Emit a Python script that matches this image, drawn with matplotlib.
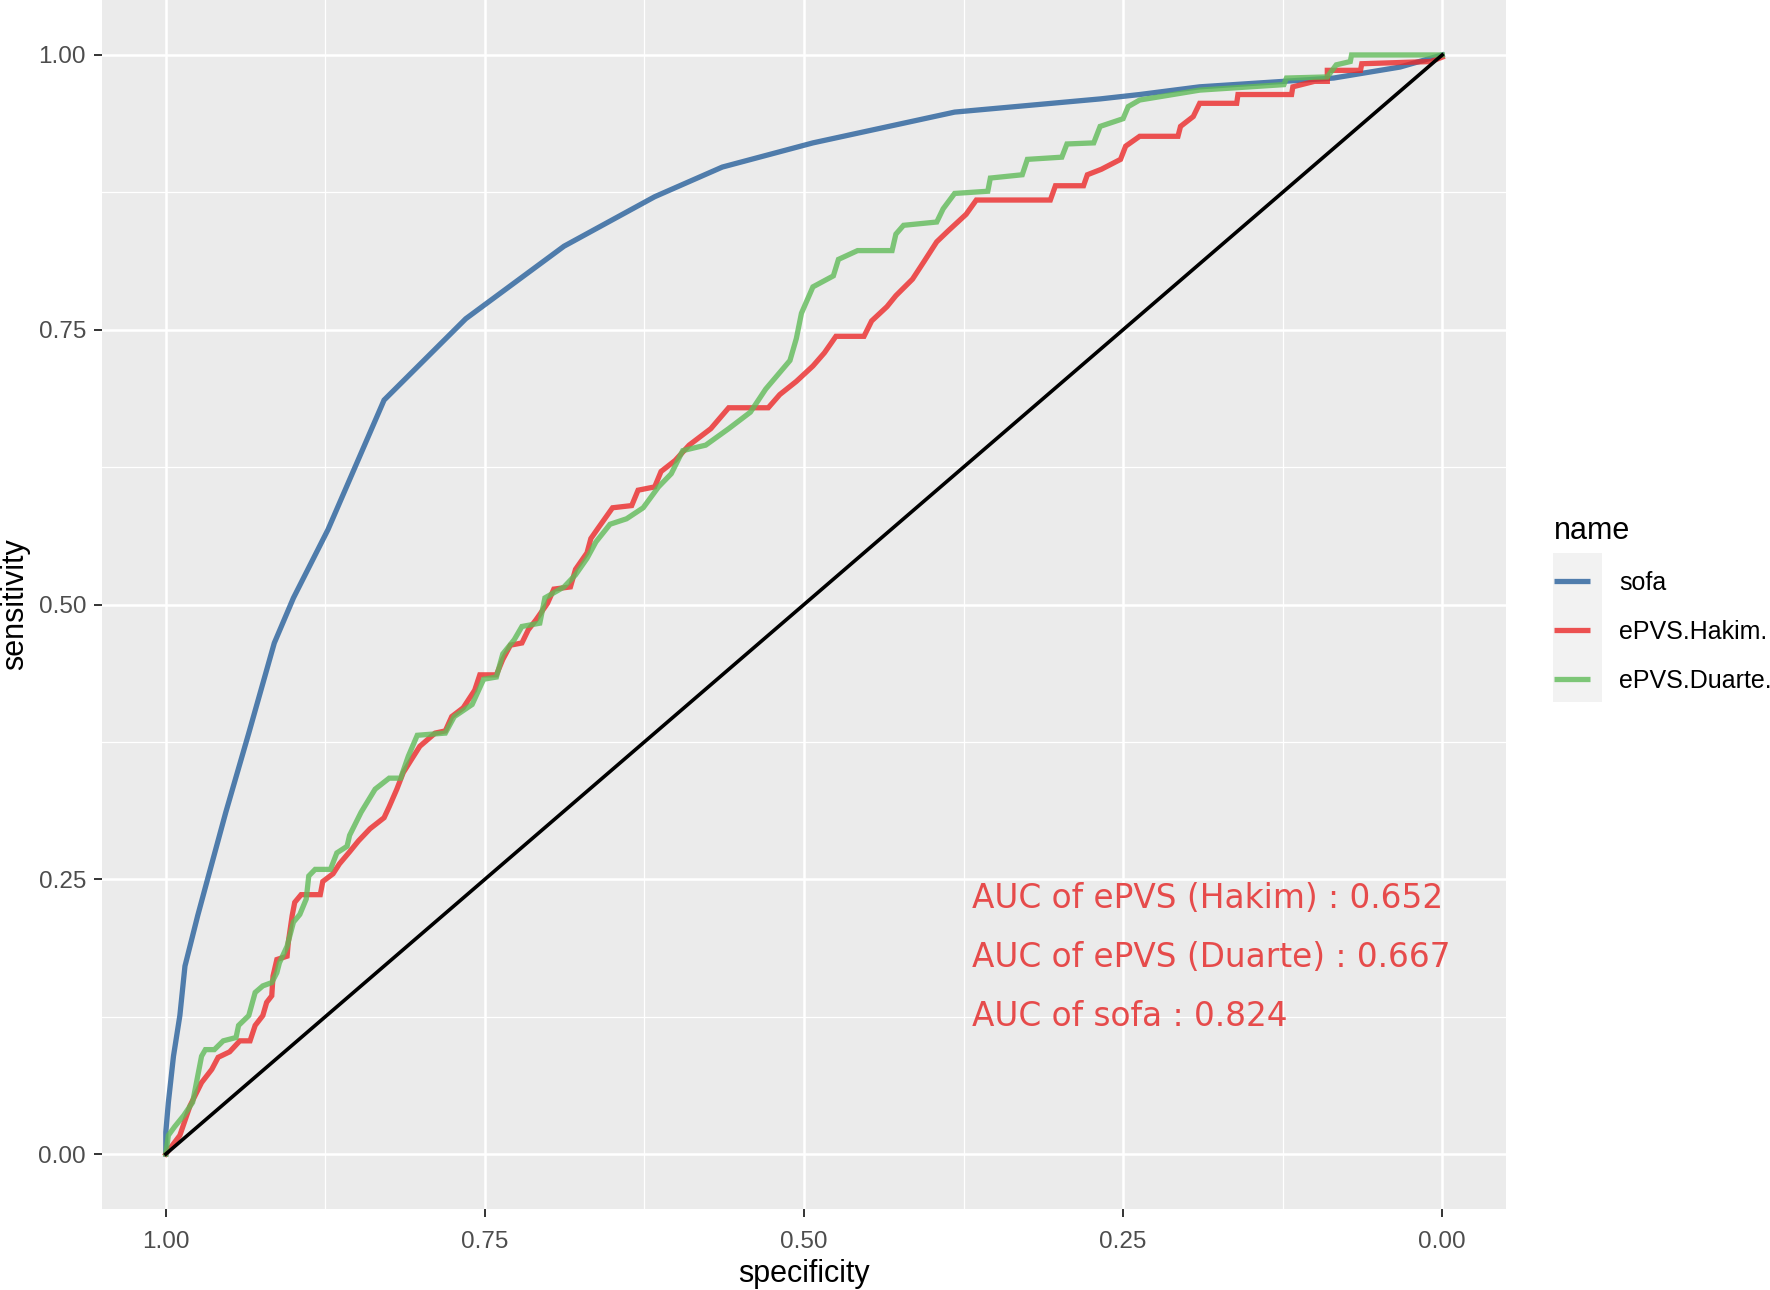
import matplotlib
matplotlib.use("Agg")
import matplotlib.pyplot as plt
from matplotlib.patches import Rectangle
import numpy as np

# ---------------- data ----------------
sofa_spec = [1.0, 1.0, 0.998, 0.994, 0.989, 0.985, 0.975, 0.968, 0.953, 0.935, 0.915, 0.900,
             0.873, 0.829, 0.765, 0.688, 0.617, 0.564, 0.493, 0.382, 0.268, 0.237, 0.190,
             0.124, 0.085, 0.033, 0.0]
sofa_sens = [0.0, 0.020, 0.047, 0.089, 0.126, 0.171, 0.217, 0.247, 0.311, 0.383, 0.465, 0.506,
             0.568, 0.686, 0.760, 0.826, 0.871, 0.898, 0.920, 0.948, 0.960, 0.964, 0.971,
             0.976, 0.979, 0.989, 1.0]

hakim_spec = [1.0, 0.989, 0.981, 0.972, 0.964, 0.959, 0.950, 0.942, 0.934, 0.930, 0.924, 0.921,
              0.917, 0.916, 0.913, 0.905, 0.904, 0.901, 0.899, 0.894, 0.879, 0.877, 0.869,
              0.864, 0.856, 0.849, 0.840, 0.829, 0.825, 0.819, 0.814, 0.807, 0.801, 0.789,
              0.781, 0.776, 0.767, 0.758, 0.754, 0.741, 0.736, 0.730, 0.721, 0.716, 0.710,
              0.701, 0.696, 0.683, 0.679, 0.670, 0.667, 0.661, 0.650, 0.635, 0.630, 0.617,
              0.612, 0.601, 0.590, 0.573, 0.559, 0.528, 0.519, 0.506, 0.493, 0.484, 0.475,
              0.453, 0.447, 0.435, 0.428, 0.415, 0.406, 0.396, 0.387, 0.373, 0.365, 0.307,
              0.303, 0.281, 0.278, 0.267, 0.252, 0.248, 0.237, 0.207, 0.205, 0.195, 0.190,
              0.161, 0.160, 0.118, 0.117, 0.100, 0.090, 0.090, 0.064, 0.063, 0.009, 0.0]
hakim_sens = [0.0, 0.017, 0.044, 0.065, 0.077, 0.088, 0.093, 0.103, 0.103, 0.117, 0.126, 0.138,
              0.144, 0.162, 0.177, 0.180, 0.193, 0.217, 0.229, 0.236, 0.236, 0.248, 0.255,
              0.264, 0.275, 0.285, 0.296, 0.306, 0.316, 0.332, 0.347, 0.360, 0.371, 0.383,
              0.385, 0.398, 0.406, 0.422, 0.436, 0.436, 0.450, 0.463, 0.465, 0.477, 0.486,
              0.501, 0.514, 0.516, 0.532, 0.547, 0.560, 0.570, 0.588, 0.590, 0.604, 0.607,
              0.621, 0.631, 0.645, 0.660, 0.679, 0.679, 0.691, 0.703, 0.717, 0.729, 0.744,
              0.744, 0.758, 0.771, 0.781, 0.796, 0.812, 0.830, 0.840, 0.855, 0.868, 0.868,
              0.881, 0.881, 0.891, 0.896, 0.905, 0.917, 0.926, 0.926, 0.935, 0.944, 0.956,
              0.956, 0.964, 0.964, 0.971, 0.976, 0.976, 0.986, 0.986, 0.992, 0.994, 0.998]

duarte_spec = [1.0, 0.998, 0.993, 0.986, 0.979, 0.976, 0.972, 0.969, 0.962, 0.955, 0.945, 0.943,
               0.935, 0.930, 0.924, 0.917, 0.913, 0.911, 0.905, 0.900, 0.895, 0.890, 0.888,
               0.883, 0.871, 0.869, 0.866, 0.858, 0.856, 0.847, 0.836, 0.825, 0.816, 0.810,
               0.803, 0.781, 0.774, 0.760, 0.751, 0.741, 0.736, 0.727, 0.721, 0.707, 0.703,
               0.688, 0.679, 0.670, 0.663, 0.652, 0.639, 0.626, 0.614, 0.604, 0.595, 0.577,
               0.559, 0.542, 0.530, 0.511, 0.506, 0.502, 0.493, 0.477, 0.473, 0.458, 0.431,
               0.428, 0.422, 0.396, 0.391, 0.382, 0.356, 0.354, 0.329, 0.325, 0.298, 0.294,
               0.273, 0.268, 0.250, 0.246, 0.237, 0.190, 0.124, 0.122, 0.090, 0.083, 0.072,
               0.071, 0.0]
duarte_sens = [0.0, 0.017, 0.025, 0.035, 0.047, 0.065, 0.089, 0.095, 0.095, 0.103, 0.106, 0.117,
               0.126, 0.147, 0.153, 0.156, 0.165, 0.174, 0.189, 0.211, 0.218, 0.232, 0.253,
               0.259, 0.259, 0.265, 0.274, 0.280, 0.290, 0.311, 0.332, 0.342, 0.342, 0.362,
               0.381, 0.383, 0.398, 0.409, 0.432, 0.434, 0.455, 0.468, 0.480, 0.483, 0.506,
               0.516, 0.527, 0.542, 0.557, 0.573, 0.578, 0.588, 0.607, 0.619, 0.640, 0.645,
               0.660, 0.675, 0.696, 0.722, 0.742, 0.765, 0.789, 0.799, 0.814, 0.822, 0.822,
               0.837, 0.845, 0.848, 0.860, 0.874, 0.876, 0.888, 0.891, 0.905, 0.907, 0.919,
               0.920, 0.935, 0.942, 0.953, 0.959, 0.968, 0.973, 0.979, 0.980, 0.991, 0.994,
               1.0, 1.0]

series_names = ["sofa", "ePVS.Hakim.", "ePVS.Duarte."]
auc_labels = ["AUC of ePVS (Hakim) : 0.652",
              "AUC of ePVS (Duarte) : 0.667",
              "AUC of sofa : 0.824"]
tick_values = [1.00, 0.75, 0.50, 0.25, 0.00]
tick_labels = ["1.00", "0.75", "0.50", "0.25", "0.00"]

# ---------------- figure ----------------
W, H, DPI = 1770, 1290, 100
fig = plt.figure(figsize=(W / DPI, H / DPI), dpi=DPI)
font = ["Liberation Sans", "DejaVu Sans"]
plt.rcParams["font.family"] = font

ax = fig.add_axes([102 / W, 81 / H, (1506 - 102) / W, (1209 - 0) / H])
ax.set_facecolor("#EBEBEB")
for s in ax.spines.values():
    s.set_visible(False)

ax.set_xlim(1.05, -0.05)
ax.set_ylim(-0.05, 1.05)
ax.set_xticks(tick_values)
ax.set_xticklabels(tick_labels)
ax.set_yticks(tick_values[::-1])
ax.set_yticklabels(tick_labels[::-1])
ax.set_xticks([0.875, 0.625, 0.375, 0.125], minor=True)
ax.set_yticks([0.125, 0.375, 0.625, 0.875], minor=True)
ax.grid(which="major", color="white", linewidth=1.8)
ax.grid(which="minor", color="white", linewidth=0.9)
ax.set_axisbelow(True)
ax.tick_params(which="major", length=5.5, width=1.4, color="#333333",
               labelsize=17.5, labelcolor="#4D4D4D", pad=6)
ax.tick_params(axis="x", which="major", pad=10)
ax.tick_params(which="minor", length=0)

cols = ["#28609C", "#EB2929", "#60BB59"]
lw = 3.8
l1, = ax.plot(sofa_spec, sofa_sens, color=cols[0], lw=lw, alpha=0.8,
              solid_joinstyle="miter", label=series_names[0])
l2, = ax.plot(hakim_spec, hakim_sens, color=cols[1], lw=lw, alpha=0.8,
              solid_joinstyle="miter", label=series_names[1])
l3, = ax.plot(duarte_spec, duarte_sens, color=cols[2], lw=lw, alpha=0.8,
              solid_joinstyle="miter", label=series_names[2])
ax.plot([1, 0], [0, 1], color="black", lw=2.6, zorder=5)

ax.set_xlabel("specificity", fontsize=22, labelpad=5)
ax.set_ylabel("sensitivity", fontsize=22, labelpad=6)

# AUC annotations
auc_y = [0.2236, 0.170, 0.1164]
for txt, yy in zip(auc_labels, auc_y):
    ax.text(0.368, yy, txt, color="#E64B4B", fontsize=23.6,
            family=["DejaVu Sans"], ha="left", va="baseline")

# legend
fig.patches.append(Rectangle((1553 / W, 1 - 702 / H), 49 / W, 149 / H,
                             transform=fig.transFigure, facecolor="#F2F2F2",
                             edgecolor="none", zorder=0))
leg = fig.legend(handles=[l1, l2, l3], title="name", loc="upper left",
                 bbox_to_anchor=(1554 / W, 1 - 516 / H), frameon=False,
                 fontsize=18, title_fontsize=22, handlelength=1.45,
                 handletextpad=1.15, labelspacing=1.0, borderaxespad=0,
                 borderpad=0)
leg._legend_box.align = "left"
for h in leg.legend_handles:
    h.set_alpha(0.8)
    h.set_linewidth(3.8)
    h.set_solid_capstyle("butt")

fig.savefig("out.png", dpi=DPI)
